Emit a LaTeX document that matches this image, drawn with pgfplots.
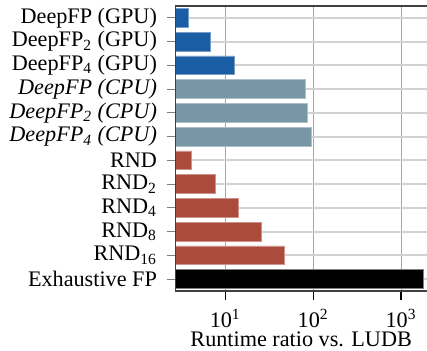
\documentclass[border=0pt]{standalone}
\usepackage{fontspec}
\setmainfont{Liberation Serif}
\usepackage{pgfplots}
\pgfplotsset{compat=1.18}
\definecolor{gpu}{HTML}{1A5DA4}
\definecolor{cpu}{HTML}{7796A6}
\definecolor{rnd}{HTML}{AB4B3C}
\definecolor{axcol}{HTML}{404040}
\begin{document}
\fontsize{11.1}{13}\selectfont
\begin{tikzpicture}
\begin{axis}[
  name=ax,
  scale only axis, width=125.85pt, height=142.5pt,
  xmode=log, xmin=2.70, xmax=1973,
  log origin x=infty,
  ymin=-0.5, ymax=11.5, y dir=reverse,
  ytick={0,...,11},
  yticklabels={DeepFP (GPU), DeepFP\textsubscript{2} (GPU), DeepFP\textsubscript{4} (GPU),
    \textit{DeepFP (CPU)}, \textit{DeepFP\textsubscript{2} (CPU)}, \textit{DeepFP\textsubscript{4} (CPU)},
    RND, RND\textsubscript{2}, RND\textsubscript{4}, RND\textsubscript{8}, RND\textsubscript{16}, Exhaustive FP},
  xtick={10,100,1000},
  xticklabels={\mbox{10\textsuperscript{1}},\mbox{10\textsuperscript{2}},\mbox{10\textsuperscript{3}}},
  minor tick length=0pt,
  xtick pos=lower, ytick pos=lower,
  tick align=outside,
  major tick length=4.3pt,
  x tick style={black, line width=0.6pt},
  y tick style={gray, line width=0.6pt},
  xmajorgrids, ymajorgrids,
  major x grid style={color=gray!70, line width=0.5pt},
  major y grid style={color=gray!35, line width=1pt},
  axis line style={draw=none},
  bar width=0.79,
  xlabel={Runtime ratio vs. LUDB},
  every tick label/.append style={font=\fontsize{11.1}{13}\selectfont},
  yticklabel style={xshift=-1pt},
  xticklabel style={yshift=-1pt},
  label style={font=\fontsize{11.1}{13}\selectfont},
  xlabel style={yshift=5.5pt},
  clip=false,
]
\addplot[xbar, bar shift=0pt, fill=gpu, draw=gpu!60!white, line width=0.3pt] coordinates {(3.77,0) (6.8,1) (12.5,2)};
\addplot[xbar, bar shift=0pt, fill=cpu, draw=cpu!60!white, line width=0.3pt] coordinates {(80.5,3) (86.5,4) (94,5)};
\addplot[xbar, bar shift=0pt, fill=rnd, draw=rnd!60!white, line width=0.3pt] coordinates {(4.15,6) (7.8,7) (14.2,8) (25.9,9) (46.4,10)};
\addplot[xbar, bar shift=0pt, fill=black, draw=gray, line width=0.3pt] coordinates {(1810,11)};
\draw[axcol, line width=0.6pt] (rel axis cs:1,0) -- (rel axis cs:0,0) -- (rel axis cs:0,1) -- (rel axis cs:1,1);
\end{axis}
\pgfresetboundingbox
\useasboundingbox ([xshift=-87.65pt,yshift=-30pt]ax.south west) rectangle ([yshift=3pt]ax.north east);
\end{tikzpicture}
\end{document}
